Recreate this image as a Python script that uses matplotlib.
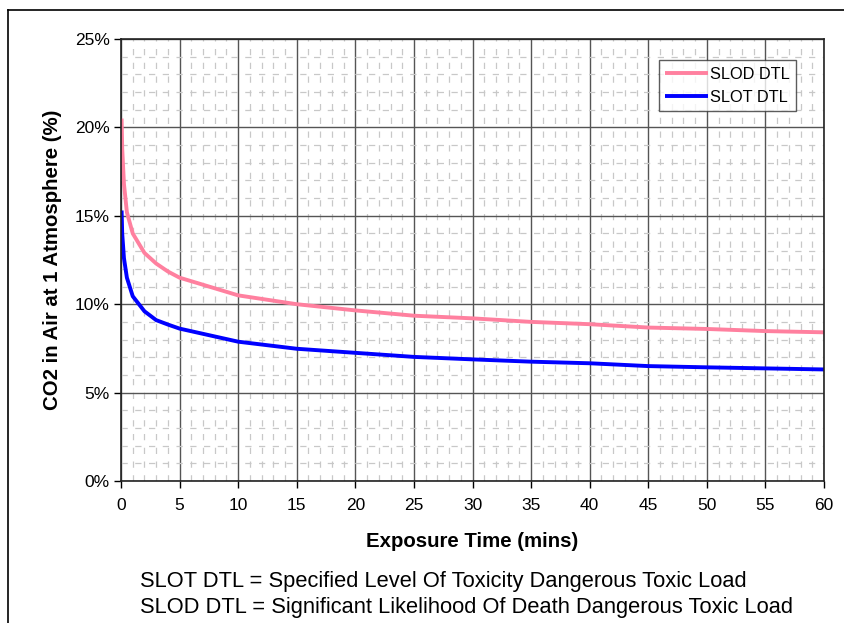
import numpy as np
import matplotlib
matplotlib.use('Agg')
import matplotlib.pyplot as plt
from matplotlib.ticker import MultipleLocator, FuncFormatter
from matplotlib.lines import Line2D

plt.rcParams['font.family'] = ['Liberation Sans', 'DejaVu Sans']

# exposure time (mins) and CO2 concentration (%)
time_mins = [0.05, 0.1, 0.25, 0.5, 1, 2, 3, 4, 5, 10, 15, 20, 25, 30, 35, 40, 45, 50, 55, 60]
slod_dtl = [20.5, 18.8, 16.8, 15.2, 14.0, 12.9, 12.3, 11.85, 11.5, 10.5, 10.0,
            9.65, 9.35, 9.2, 9.0, 8.87, 8.68, 8.6, 8.48, 8.41]
slot_dtl = [15.3, 14.0, 12.6, 11.5, 10.45, 9.6, 9.1, 8.85, 8.62, 7.88, 7.48,
            7.25, 7.02, 6.88, 6.75, 6.66, 6.5, 6.43, 6.37, 6.31]

notes = ['SLOT DTL = Specified Level Of Toxicity Dangerous Toxic Load',
         'SLOD DTL = Significant Likelihood Of Death Dangerous Toxic Load']

fig = plt.figure(figsize=(8.44, 6.23), dpi=100)
ax = fig.add_axes([0.1434, 0.2279, 0.8329, 0.7095])

ax.plot(time_mins, slod_dtl, color='#FF809F', lw=2.8, label='SLOD DTL', solid_capstyle='butt')
ax.plot(time_mins, slot_dtl, color='#0000FF', lw=2.8, label='SLOT DTL', solid_capstyle='butt')

ax.set_xlim(0, 60)
ax.set_ylim(0, 25)
ax.xaxis.set_major_locator(MultipleLocator(5))
ax.xaxis.set_minor_locator(MultipleLocator(1))
ax.yaxis.set_major_locator(MultipleLocator(5))
ax.yaxis.set_minor_locator(MultipleLocator(1))
ax.yaxis.set_major_formatter(FuncFormatter(lambda v, p: '%d%%' % v))

ax.grid(which='minor', color='#c8c8c8', lw=0.9, linestyle=(0, (5, 6)))
ax.grid(which='major', color='#555555', lw=1.0)
ax.set_axisbelow(True)

ax.tick_params(which='major', direction='out', length=5, width=1, labelsize=12.5)
ax.tick_params(which='minor', length=0)
ax.tick_params(axis='x', pad=7)
ax.tick_params(axis='y', pad=3)
for s in ax.spines.values():
    s.set_color('#222222')
    s.set_linewidth(1.2)

ax.set_xlabel('Exposure Time (mins)', fontsize=14.7, fontweight='bold')
ax.set_ylabel('CO2 in Air at 1 Atmosphere (%)', fontsize=14.7, fontweight='bold')
ax.xaxis.set_label_coords(0.5, -0.115)
ax.yaxis.set_label_coords(-0.084, 0.5)

leg = ax.legend(loc='upper right', bbox_to_anchor=(0.960, 0.9525), fontsize=11.8,
                frameon=True, fancybox=False, handlelength=2.6, handletextpad=0.1,
                borderpad=0.4, labelspacing=0.5, borderaxespad=0)
leg.get_frame().set_edgecolor('#333333')
leg.get_frame().set_linewidth(1.0)

fig.text(140 / 844, 1 - 582 / 623, notes[0], fontsize=15.75, va='center', ha='left')
fig.text(140 / 844, 1 - 607 / 623, notes[1], fontsize=15.75, va='center', ha='left')

# page frame lines (top and left)
fig.add_artist(Line2D([8 / 844, 1], [1 - 10 / 623, 1 - 10 / 623], color='black', lw=1.2, transform=fig.transFigure))
fig.add_artist(Line2D([8 / 844, 8 / 844], [0, 1 - 10 / 623], color='black', lw=1.2, transform=fig.transFigure))

fig.savefig('out.png', dpi=100)
